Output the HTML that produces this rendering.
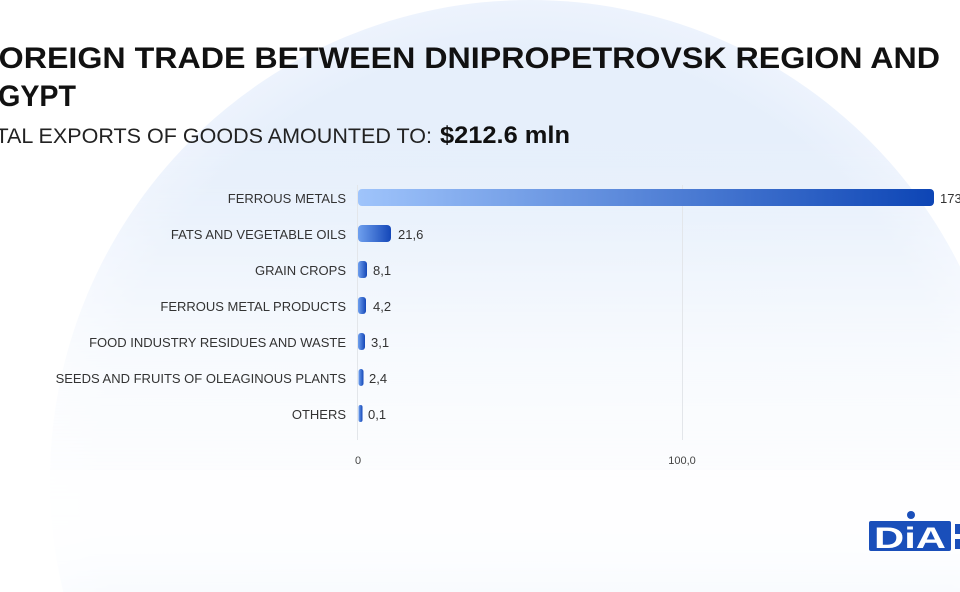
<!DOCTYPE html>
<html><head><meta charset="utf-8"><style>
html,body{margin:0;padding:0;width:960px;height:592px;overflow:hidden;background:#fff}
svg{display:block}
</style></head><body>
<svg width="960" height="592" viewBox="0 0 960 592" xmlns="http://www.w3.org/2000/svg" font-family="Liberation Sans, sans-serif">
<defs>
<radialGradient id="bg" cx="530" cy="480" r="480" gradientUnits="userSpaceOnUse">
<stop offset="0" stop-color="#e4eefb"/>
<stop offset="0.9" stop-color="#e6effb"/>
<stop offset="1" stop-color="#edf3fd"/>
</radialGradient>
<linearGradient id="fade" x1="0" y1="0" x2="0" y2="1">
<stop offset="0" stop-color="#fff" stop-opacity="0"/>
<stop offset="0.45" stop-color="#fff" stop-opacity="0.75"/>
<stop offset="1" stop-color="#fff" stop-opacity="1"/>
</linearGradient>
<linearGradient id="b1" x1="0" y1="0" x2="1" y2="0">
<stop offset="0" stop-color="#9fc4fb"/>
<stop offset="1" stop-color="#0d45b5"/>
</linearGradient>
<linearGradient id="b2" x1="0" y1="0" x2="1" y2="0">
<stop offset="0" stop-color="#6fa0ee"/>
<stop offset="1" stop-color="#1447b8"/>
</linearGradient>
<filter id="blur" x="-10%" y="-10%" width="120%" height="120%"><feGaussianBlur stdDeviation="40"/></filter>
<clipPath id="c"><rect width="960" height="592"/></clipPath>
</defs>
<g clip-path="url(#c)">
<rect width="960" height="592" fill="#fff"/>
<circle cx="530" cy="480" r="480" fill="url(#bg)"/>
<rect x="-100" y="170" width="1160" height="420" fill="url(#fade)" filter="url(#blur)"/>
<rect x="0" y="470" width="960" height="122" fill="#fff" opacity="0.5"/>
</g>

<text x="-21" y="68" font-size="30" font-weight="bold" fill="#111" textLength="961" lengthAdjust="spacingAndGlyphs">FOREIGN TRADE BETWEEN DNIPROPETROVSK REGION AND</text>
<text x="-21" y="106" font-size="30" font-weight="bold" fill="#111" textLength="97" lengthAdjust="spacingAndGlyphs">EGYPT</text>
<text x="-34" y="143" font-size="21" fill="#222" textLength="466" lengthAdjust="spacingAndGlyphs">TOTAL EXPORTS OF GOODS AMOUNTED TO:</text>
<text x="440" y="143" font-size="24" font-weight="bold" fill="#111" textLength="130" lengthAdjust="spacingAndGlyphs">$212.6 mln</text>

<line x1="357.5" y1="185" x2="357.5" y2="440" stroke="#e3e6ea" stroke-width="1"/>
<line x1="682.5" y1="185" x2="682.5" y2="440" stroke="#e3e6ea" stroke-width="1"/>

<g font-size="13" fill="#333" text-anchor="end">
<text x="346" y="203">FERROUS METALS</text>
<text x="346" y="239">FATS AND VEGETABLE OILS</text>
<text x="346" y="275">GRAIN CROPS</text>
<text x="346" y="311">FERROUS METAL PRODUCTS</text>
<text x="346" y="347">FOOD INDUSTRY RESIDUES AND WASTE</text>
<text x="346" y="383">SEEDS AND FRUITS OF OLEAGINOUS PLANTS</text>
<text x="346" y="419">OTHERS</text>
</g>

<rect x="358" y="189" width="576" height="17" rx="4" fill="url(#b1)"/>
<rect x="358" y="225" width="33" height="17" rx="4" fill="url(#b2)"/>
<rect x="358" y="261" width="9" height="17" rx="3" fill="url(#b2)"/>
<rect x="358" y="297" width="8" height="17" rx="3" fill="url(#b2)"/>
<rect x="358" y="333" width="7" height="17" rx="3" fill="url(#b2)"/>
<rect x="358.5" y="369" width="5" height="17" rx="2.5" fill="url(#b2)"/>
<rect x="358.5" y="405" width="4" height="17" rx="2" fill="url(#b2)"/>

<g font-size="13" fill="#333">
<text x="940" y="203">173</text>
<text x="398" y="239">21,6</text>
<text x="373" y="275">8,1</text>
<text x="373" y="311">4,2</text>
<text x="371" y="347">3,1</text>
<text x="369" y="383">2,4</text>
<text x="368" y="419">0,1</text>
</g>
<g font-size="11" fill="#444" text-anchor="middle">
<text x="358" y="464">0</text>
<text x="682" y="464">100,0</text>
</g>

<rect x="869" y="521" width="82" height="30" rx="2" fill="#1a4fba"/>
<circle cx="911" cy="515" r="4" fill="#1a4fba"/>
<text x="910" y="548" font-size="30" font-weight="bold" fill="#fff" text-anchor="middle" textLength="72" lengthAdjust="spacingAndGlyphs">DiA</text>
<rect x="955" y="524" width="5" height="10" fill="#1a4fba"/>
<rect x="955" y="539" width="5" height="10" fill="#1a4fba"/>
</svg>
</body></html>
